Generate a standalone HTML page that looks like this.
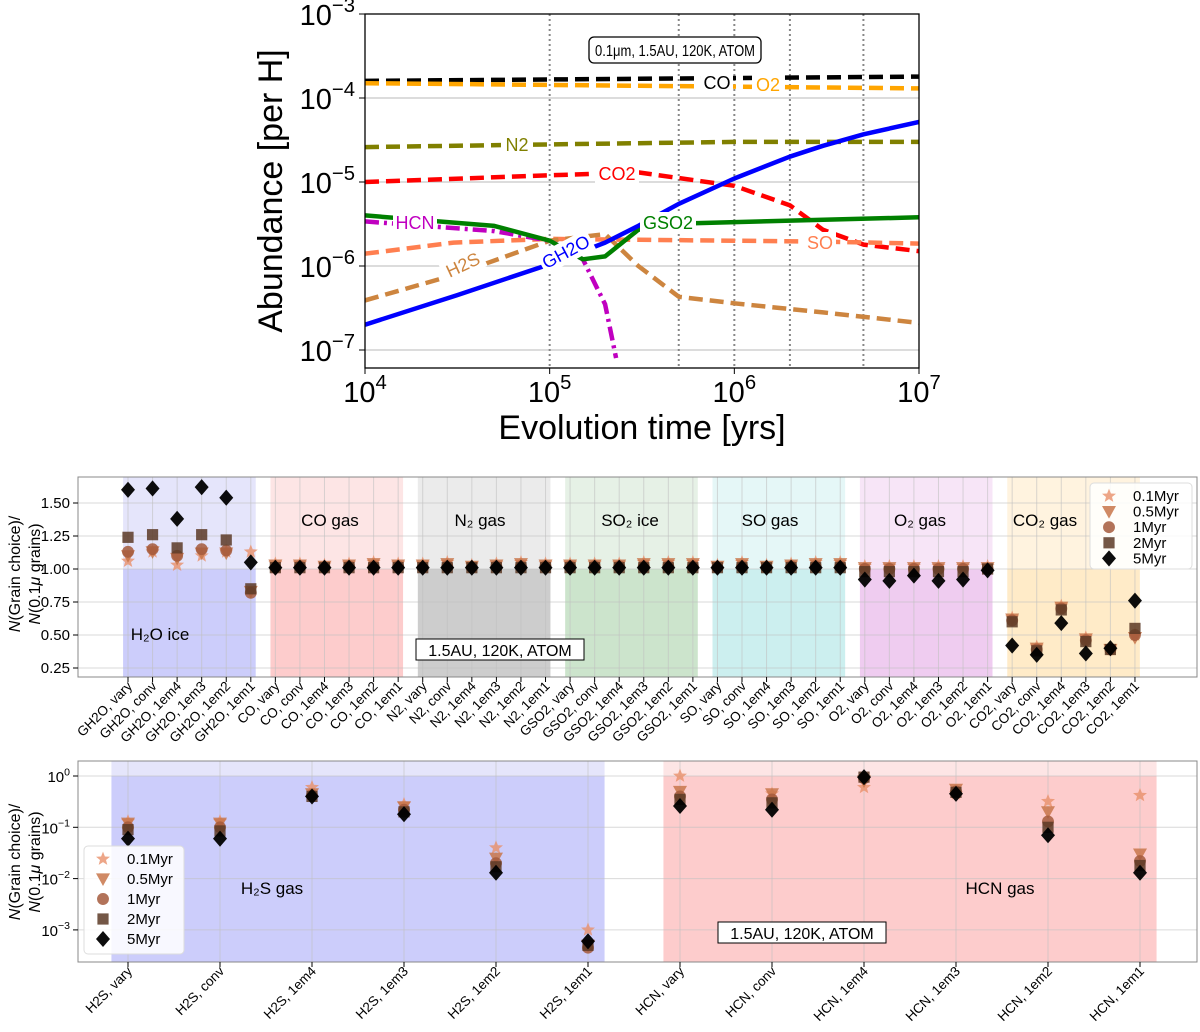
<!DOCTYPE html>
<html><head><meta charset="utf-8"><style>
body{margin:0;background:#fff}
svg{display:block;font-family:"Liberation Sans","DejaVu Sans",sans-serif}
</style></head><body>
<svg id="fig" width="1200" height="1032" viewBox="0 0 1200 1032" xmlns="http://www.w3.org/2000/svg">
<g id="top"></g>
<g id="mid"></g>
<g id="bot"></g>
</svg>
<script>
// ---------- TOP PANEL DATA ----------
const coT=[4,7], coA=[1.6e-4,1.8e-4];
const o2T=[4,7], o2A=[1.5e-4,1.3e-4];
const n2T=[4,5,6,7], n2A=[2.6e-5,2.8e-5,3.0e-5,3.0e-5];
const co2T=[4,5,5.48,6,6.3,6.48,6.7,7], co2A=[1.0e-5,1.2e-5,1.3e-5,9e-6,5.3e-6,2.7e-6,1.8e-6,1.5e-6];
const gh2oT=[4,4.5,5,5.3,5.48,5.7,6,6.3,6.48,6.7,7], gh2oA=[2e-7,4.5e-7,1.05e-6,1.9e-6,3e-6,5.5e-6,1.1e-5,2.0e-5,2.7e-5,3.7e-5,5.2e-5];
const hcnT=[4,4.7,5,5.18,5.3,5.36], hcnA=[3.4e-6,2.6e-6,2.0e-6,1.2e-6,3.5e-7,8e-8];
const gso2T=[4,4.7,5,5.18,5.3,5.48,5.7,7], gso2A=[4e-6,3e-6,2.0e-6,1.2e-6,1.3e-6,2.7e-6,3.2e-6,3.8e-6];
const soT=[4,4.48,5,5.48,6,6.48,7], soA=[1.4e-6,1.9e-6,2.1e-6,2.05e-6,2.0e-6,1.95e-6,1.85e-6];
const h2sT=[4,4.48,5,5.3,5.48,5.7,6,6.48,7], h2sA=[3.9e-7,7.8e-7,2.0e-6,2.4e-6,1.0e-6,4.3e-7,3.6e-7,2.8e-7,2.1e-7];
const topYTicks=[-3,-4,-5,-6,-7], topXTicks=[4,5,6,7], vlines=[5,5.699,6,6.301,6.699];

// ---------- MIDDLE PANEL DATA ----------
const midGroups=["GH2O","CO","N2","GSO2","SO","O2","CO2"];
const midSuffix=["vary","conv","1em4","1em3","1em2","1em1"];
const mid01=[1.06,1.13,1.03,1.10,1.13,1.13, 1.04,1.04,1.03,1.04,1.05,1.04, 1.04,1.05,1.03,1.04,1.05,1.04, 1.04,1.04,1.04,1.05,1.05,1.05, 1.03,1.05,1.03,1.04,1.05,1.05, 1.02,1.02,1.02,1.02,1.02,1.02, 0.63,0.41,0.72,0.48,0.40,0.50];
const mid05=[1.10,1.13,1.08,1.12,1.12,0.83, 1.03,1.03,1.02,1.03,1.04,1.03, 1.03,1.04,1.02,1.03,1.04,1.03, 1.03,1.03,1.03,1.04,1.04,1.04, 1.02,1.04,1.02,1.03,1.04,1.04, 1.01,1.01,1.01,1.01,1.01,1.01, 0.62,0.40,0.71,0.47,0.39,0.48];
const mid1=[1.13,1.15,1.10,1.15,1.14,0.82, 1.01,1.02,1.01,1.02,1.02,1.02, 1.01,1.02,1.01,1.02,1.02,1.02, 1.02,1.02,1.02,1.02,1.02,1.02, 1.01,1.02,1.01,1.02,1.02,1.02, 1.00,1.00,1.00,1.00,1.00,1.00, 0.61,0.39,0.70,0.46,0.39,0.50];
const mid2=[1.24,1.26,1.16,1.26,1.22,0.85, 1.01,1.01,1.01,1.01,1.01,1.01, 1.01,1.01,1.01,1.01,1.01,1.01, 1.01,1.01,1.01,1.01,1.01,1.01, 1.01,1.01,1.01,1.01,1.01,1.01, 0.98,0.98,0.98,0.98,0.98,1.00, 0.60,0.38,0.69,0.45,0.39,0.55];
const mid5=[1.60,1.61,1.38,1.62,1.54,1.05, 1.01,1.01,1.01,1.01,1.01,1.01, 1.01,1.01,1.01,1.01,1.01,1.01, 1.01,1.01,1.01,1.01,1.01,1.01, 1.01,1.01,1.01,1.01,1.01,1.01, 0.92,0.91,0.95,0.91,0.92,0.99, 0.42,0.35,0.59,0.36,0.40,0.76];
const midYTicks=[0.25,0.50,0.75,1.00,1.25,1.50];

// ---------- BOTTOM PANEL DATA ----------
const botGroups=["H2S","HCN"];
const bot01=[0.13,0.13,0.60,0.28,0.040,0.0010, 1.0,0.45,0.60,0.45,0.32,0.42];
const bot05=[0.12,0.12,0.45,0.25,0.025,0.0005, 0.50,0.45,0.80,0.55,0.20,0.030];
const bot1=[0.10,0.10,0.42,0.22,0.020,0.00045, 0.40,0.35,0.90,0.50,0.13,0.022];
const bot2=[0.09,0.085,0.40,0.20,0.017,0.0005, 0.35,0.30,0.95,0.48,0.10,0.018];
const bot5=[0.06,0.06,0.40,0.18,0.013,0.0006, 0.26,0.22,0.95,0.45,0.07,0.013];
const botYTicks=[0,-1,-2,-3];
const seriesNames=["0.1Myr","0.5Myr","1Myr","2Myr","5Myr"];

// ---------- helpers ----------
const NS="http://www.w3.org/2000/svg";
function mk(parent,tag,attrs,text){const e=document.createElementNS(NS,tag);for(const k in attrs)e.setAttribute(k,attrs[k]);if(text!==undefined)e.textContent=text;parent.appendChild(e);return e;}
function ts(parent,text,attrs){const e=document.createElementNS(NS,'tspan');for(const k in (attrs||{}))e.setAttribute(k,attrs[k]);e.textContent=text;parent.appendChild(e);return e;}
function sup(parent,x,y,base,exp,size,anchor){
  const t=mk(parent,'text',{x:x,y:y,'font-size':size,'text-anchor':anchor||'middle',fill:'#000'});
  ts(t,base);ts(t,exp,{dy:-size*0.45,'font-size':size*0.7});
  return t;
}
function ylabel(g,cx,cy){
  const yt=mk(g,'text',{transform:`translate(20,${cy}) rotate(-90)`,'font-size':16,'text-anchor':'middle'});
  
  ts(yt,'N',{'font-style':'italic'});ts(yt,'(Grain choice)/');
  const yt2=mk(g,'text',{transform:`translate(40,${cy}) rotate(-90)`,'font-size':16,'text-anchor':'middle'});
  
  ts(yt2,'N',{'font-style':'italic'});ts(yt2,'(0.1');ts(yt2,'μ',{'font-style':'italic'});ts(yt2,' grains)');
}

// ---------- TOP ----------
(function(){
const g=document.getElementById('top');
const L=365,R=919,T=14,B=368;
const X=lt=>L+(lt-4)/3*(R-L);
const Y=a=>T+(-3-Math.log10(a))*84;
const Yl=l=>T+(-3-l)*84;
const cp=mk(g,'clipPath',{id:'tclip'});mk(cp,'rect',{x:L,y:T,width:R-L,height:B-T});
for(const l of topYTicks){ if(l<-3&&l>-8){const e=mk(g,'line',{x1:L,x2:R,y1:Yl(l),y2:Yl(l),stroke:'#c8c8c8','stroke-width':1.2});}}
for(const v of vlines){const e=mk(g,'line',{x1:X(v),x2:X(v),y1:T,y2:B,stroke:'#888','stroke-width':2,'stroke-dasharray':'2,3'});}
const series=[
 ['co',coT,coA,'#000','14,7','CO'],['o2',o2T,o2A,'#ffa500','14,7','O2'],['n2',n2T,n2A,'#808000','14,7','N2'],
 ['co2',co2T,co2A,'#ff0000','14,7','CO2'],['so',soT,soA,'#ff7f50','14,7','SO'],['h2s',h2sT,h2sA,'#cd853f','14,7','H2S'],
 ['hcn',hcnT,hcnA,'#c000c0','14,5,3,5','HCN'],['gso2',gso2T,gso2A,'#008000','','GSO2'],['gh2o',gh2oT,gh2oA,'#0000ff','','GH2O']];
const lg=mk(g,'g',{'clip-path':'url(#tclip)'});
for(const s of series){
  const d=s[1].map((t,i)=>(i?'L':'M')+X(t).toFixed(1)+','+Y(s[2][i]).toFixed(1)).join(' ');
  const p=mk(lg,'path',{d:d,fill:'none',stroke:s[3],'stroke-width':4.5,'stroke-dasharray':s[4],'stroke-linejoin':'round'});
  
}
const labels=[['CO',717,83,'#000',0],['O2',768,85,'#ffa500',0],['N2',517,145,'#808000',0],['CO2',617,174,'#ff0000',0],
 ['HCN',415,223,'#c000c0',0],['GSO2',668,223,'#008000',0],['SO',820,243,'#ff7f50',0],['H2S',463,265,'#cd853f',-25],['GH2O',566,252,'#0000ff',-28]];
for(const l of labels){
  const gg=mk(g,'g',{transform:`translate(${l[1]},${l[2]}) rotate(${l[4]})`});
  
  const w=l[0].length*12+8;
  mk(gg,'rect',{x:-w/2,y:-11,width:w,height:22,fill:'#fff'});
  mk(gg,'text',{x:0,y:6,'font-size':18,'text-anchor':'middle',fill:l[3]},l[0]);
}
const bx=mk(g,'g',{});
mk(bx,'rect',{x:589,y:37,width:172,height:26,rx:5,fill:'#fff',stroke:'#000','stroke-width':1.3});
mk(bx,'text',{x:675,y:56,'font-size':15.5,'text-anchor':'middle',textLength:160,lengthAdjust:'spacingAndGlyphs'},'0.1μm, 1.5AU, 120K, ATOM');
mk(g,'rect',{x:L,y:T,width:R-L,height:B-T,fill:'none',stroke:'#000','stroke-width':1.3});
for(const l of topYTicks){mk(g,'line',{x1:L-6,x2:L,y1:Yl(l),y2:Yl(l),stroke:'#000'});const t=sup(g,L-10,Yl(l)+11,'10',String(l).replace('-','−'),29,'end');}
for(const l of topXTicks){mk(g,'line',{x1:X(l),x2:X(l),y1:B,y2:B+6,stroke:'#000'});const t=sup(g,X(l),B+34,'10',String(l),29,'middle');}
const yt=mk(g,'text',{transform:'translate(282,191) rotate(-90)','font-size':34,'text-anchor':'middle'},'Abundance [per H]');
const xt=mk(g,'text',{x:642,y:439,'font-size':34,'text-anchor':'middle'},'Evolution time [yrs]');
})();

// ---------- shared marker drawing ----------
const mColors=['#e8906a','#c8764a','#a45a3c','#5c3a26','#000'];
function marker(p,k,x,y,s){
  const c=mColors[k];let e;
  if(k===0){const pts=[];for(let i=0;i<10;i++){const r=i%2?s*0.45:s*1.05;const a=-Math.PI/2+i*Math.PI/5;pts.push((x+r*Math.cos(a)).toFixed(1)+','+(y+r*Math.sin(a)).toFixed(1));}e=mk(p,'polygon',{points:pts.join(' '),fill:c,opacity:0.8});}
  else if(k===1)e=mk(p,'polygon',{points:`${x-s},${y-s*0.8} ${x+s},${y-s*0.8} ${x},${y+s}`,fill:c,opacity:0.85});
  else if(k===2)e=mk(p,'circle',{cx:x,cy:y,r:s*0.85,fill:c,opacity:0.85});
  else if(k===3)e=mk(p,'rect',{x:x-s*0.8,y:y-s*0.8,width:s*1.6,height:s*1.6,fill:c,opacity:0.85});
  else e=mk(p,'polygon',{points:`${x},${y-s*1.15} ${x+s},${y} ${x},${y+s*1.15} ${x-s},${y}`,fill:c,opacity:0.95});
  return e;
}
function legend(p,x,y,w,h){
  const g=mk(p,'g',{});
  mk(g,'rect',{x:x,y:y,width:w,height:h,rx:4,fill:'#fff','fill-opacity':0.85,stroke:'#ddd'});
  seriesNames.forEach((n,k)=>{const yy=y+13+k*(h-8)/5;const m=marker(g,k,x+19,yy,7);
    const t=mk(g,'text',{x:x+43,y:yy+5,'font-size':15},n);});
}
const shades=[['#e5e5fb','#cccdfb'],['#fde5e5','#fdcccc'],['#ebebeb','#cdcdcd'],['#e6f1e6','#cce4cc'],['#e5f7f7','#ccefef'],['#f7e5f7','#efccf0'],['#fff3df','#ffebc8']];

// ---------- MIDDLE ----------
(function(){
const g=document.getElementById('mid');
const L=78,R=1197,T=477,B=677;
const X=i=>128+i*24.56;
const Y=v=>569-(v-1)*132;
midGroups.forEach((gr,k)=>{
  const x0=X(6*k-0.2),x1=X(6*k+5.2);
  const r=mk(g,'rect',{x:x0,y:T,width:x1-x0,height:Y(1)-T,fill:shades[k][0]});
  mk(g,'rect',{x:x0,y:Y(1),width:x1-x0,height:B-Y(1),fill:shades[k][1]});
});
for(let i=0;i<42;i++)mk(g,'line',{x1:X(i),x2:X(i),y1:T,y2:B,stroke:'#c0c0c0','stroke-opacity':0.6});
for(const v of midYTicks)mk(g,'line',{x1:L,x2:R,y1:Y(v),y2:Y(v),stroke:'#c0c0c0','stroke-opacity':0.6});
const glabels=[['H₂O ice',160,640],['CO gas',330,526],['N₂ gas',480,526],['SO₂ ice',630,526],['SO gas',770,526],['O₂ gas',920,526],['CO₂ gas',1045,526]];
glabels.forEach(l=>{const t=mk(g,'text',{x:l[1],y:l[2],'font-size':17,'text-anchor':'middle'},l[0]);});
const data=[mid01,mid05,mid1,mid2,mid5];
data.forEach((arr,k)=>arr.forEach((v,i)=>{const m=marker(g,k,X(i),Y(v),7);}));
const bx=mk(g,'g',{});
mk(bx,'rect',{x:416,y:639,width:168,height:21,fill:'#fff',stroke:'#000'});
mk(bx,'text',{x:500,y:656,'font-size':16,'text-anchor':'middle'},'1.5AU, 120K, ATOM');
legend(g,1090,483,102,86);
mk(g,'rect',{x:L,y:T,width:R-L,height:B-T,fill:'none',stroke:'#888'});
for(const v of midYTicks){mk(g,'line',{x1:L-5,x2:L,y1:Y(v),y2:Y(v),stroke:'#000'});const t=mk(g,'text',{x:L-8,y:Y(v)+5,'font-size':15,'text-anchor':'end'},v.toFixed(2));}
for(let i=0;i<42;i++){const lab=midGroups[Math.floor(i/6)]+', '+midSuffix[i%6];mk(g,'line',{x1:X(i),x2:X(i),y1:B,y2:B+5,stroke:'#000'});
  const t=mk(g,'text',{transform:`translate(${X(i)+5},${B+10}) rotate(-45)`,'font-size':13.5,'text-anchor':'end'},lab);}
ylabel(g,0,574);
})();

// ---------- BOTTOM ----------
(function(){
const g=document.getElementById('bot');
const L=78,R=1197,T=761,B=962;
const X=i=>128+i*92;
const Yl=l=>776-l*51.3;
const Y=v=>Yl(Math.log10(v));
[0,1].forEach(k=>{
  const x0=X(6*k-0.18),x1=X(6*k+5.18);const sh=k?shades[1]:shades[0];
  const r=mk(g,'rect',{x:x0,y:T,width:x1-x0,height:Yl(0)-T,fill:sh[0]});
  mk(g,'rect',{x:x0,y:Yl(0),width:x1-x0,height:B-Yl(0),fill:sh[1]});
});
for(let i=0;i<12;i++)mk(g,'line',{x1:X(i),x2:X(i),y1:T,y2:B,stroke:'#c0c0c0','stroke-opacity':0.6});
for(const l of botYTicks)mk(g,'line',{x1:L,x2:R,y1:Yl(l),y2:Yl(l),stroke:'#c0c0c0','stroke-opacity':0.6});
let t=mk(g,'text',{x:272,y:894,'font-size':17,'text-anchor':'middle'},'H₂S gas');
t=mk(g,'text',{x:1000,y:894,'font-size':17,'text-anchor':'middle'},'HCN gas');
[bot01,bot05,bot1,bot2,bot5].forEach((arr,k)=>arr.forEach((v,i)=>{const m=marker(g,k,X(i),Y(v),7);}));
const bx=mk(g,'g',{});
mk(bx,'rect',{x:718,y:922,width:168,height:21,fill:'#fff',stroke:'#000'});
mk(bx,'text',{x:802,y:939,'font-size':16,'text-anchor':'middle'},'1.5AU, 120K, ATOM');
legend(g,84,846,100,108);
mk(g,'rect',{x:L,y:T,width:R-L,height:B-T,fill:'none',stroke:'#888'});
for(const l of botYTicks){mk(g,'line',{x1:L-5,x2:L,y1:Yl(l),y2:Yl(l),stroke:'#000'});const s=sup(g,L-8,Yl(l)+6,'10',String(l).replace('-','−'),15,'end');}
for(let i=0;i<12;i++){const lab=botGroups[Math.floor(i/6)]+', '+midSuffix[i%6];mk(g,'line',{x1:X(i),x2:X(i),y1:B,y2:B+5,stroke:'#000'});
  const tt=mk(g,'text',{transform:`translate(${X(i)+5},${B+10}) rotate(-45)`,'font-size':13.5,'text-anchor':'end'},lab);}
ylabel(g,0,862);
})();
</script>
</body></html>
